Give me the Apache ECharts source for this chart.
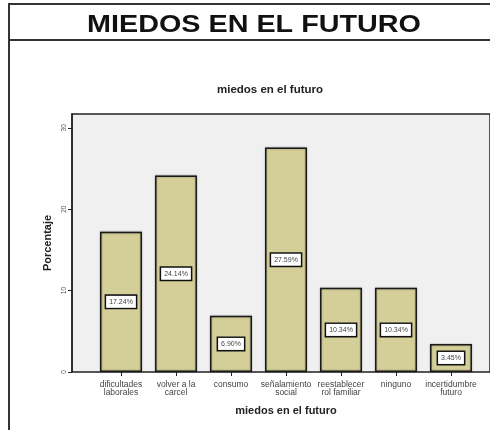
<!DOCTYPE html>
<html><head><meta charset="utf-8">
<script src="https://cdn.jsdelivr.net/npm/echarts@6/dist/echarts.min.js"></script>
<style>html,body{margin:0;padding:0;background:#fff}#c{width:490px;height:430px}</style>
</head><body><div id="c"></div>
<script>
const categories = ["dificultades\nlaborales","volver a la\ncarcel","consumo","señalamiento\nsocial","reestablecer\nrol familiar","ninguno","incertidumbre\nfuturo"];
const percentages = [17.24, 24.14, 6.90, 27.59, 10.34, 10.34, 3.45];
const yTicks = [0, 10, 20, 30];

const chart = echarts.init(document.getElementById('c'), null, {renderer:'canvas'});
const TOP = 114, BOTTOM = 430 - 372;
const yMax = 31.7;
chart.setOption({
  animation:false,
  backgroundColor:'#fff',
  title:[
    {text:'miedos en el futuro', left:265, top:79, textAlign:'center',
     textStyle:{fontFamily:'Liberation Sans', fontWeight:'bold', fontSize:11.5, color:'#222'}}
  ],
  graphic:[
    {type:'rect', shape:{x:9, y:4, width:500, height:440}, style:{fill:'none', stroke:'#333', lineWidth:2}, silent:true, z:0},
    {type:'line', shape:{x1:9, y1:40, x2:500, y2:40}, style:{stroke:'#333', lineWidth:2}, silent:true},
    {type:'text', x:254, y:26, scaleX:1.25, scaleY:1, originX:0, originY:0,
     style:{text:'MIEDOS EN EL FUTURO', x:0, y:0, align:'center', verticalAlign:'middle',
       font:'bold 23px "Liberation Sans"', fill:'#111'}, silent:true}
  ],
  grid:[
    {left:72, right:-10, top:TOP, bottom:BOTTOM, show:true, backgroundColor:'#f0f0f0', borderColor:'#222', borderWidth:1.5},
    {left:93.5, right:11.5, top:TOP, bottom:BOTTOM}
  ],
  xAxis:[
    {gridIndex:0, type:'value', min:0, max:1, show:false},
    {gridIndex:1, type:'category', data:categories,
     name:'miedos en el futuro', nameLocation:'middle', nameGap:33,
     nameTextStyle:{fontFamily:'Liberation Sans', fontWeight:'bold', fontSize:11, color:'#222'},
     axisLine:{show:false},
     axisTick:{show:true, alignWithLabel:true, length:4, lineStyle:{color:'#222', width:1}},
     axisLabel:{fontFamily:'Liberation Sans', fontSize:8.5, color:'#444', lineHeight:8.5, margin:8, interval:0}}
  ],
  yAxis:[
    {gridIndex:0, type:'value', min:0, max:yMax, interval:10,
     name:'Porcentaje', nameLocation:'middle', nameGap:19, nameRotate:90,
     nameTextStyle:{fontFamily:'Liberation Sans', fontWeight:'bold', fontSize:11, color:'#222'},
     axisLine:{show:true, lineStyle:{color:'#222', width:1.5}},
     axisTick:{show:true, length:4, lineStyle:{color:'#222'}},
     axisLabel:{rotate:90, fontFamily:'Liberation Sans', fontSize:6.5, color:'#555', margin:4,
       showMaxLabel:false,
       formatter:v=> yTicks.includes(v) ? String(v) : ''},
     splitLine:{show:false}},
    {gridIndex:1, type:'value', min:0, max:yMax, show:false, splitLine:{show:false}}
  ],
  series:[{
    type:'bar', xAxisIndex:1, yAxisIndex:1, data:percentages, barWidth:42,
    itemStyle:{color:'#d4cf98', borderColor:'#1a1a1a', borderWidth:1.5,
      shadowColor:'rgba(0,0,0,0.35)', shadowBlur:2},
    label:{show:true, position:'inside', formatter:p=>p.value.toFixed(2)+'%',
      fontFamily:'Liberation Sans', fontSize:7, color:'#444',
      backgroundColor:'#fff', borderColor:'#111', borderWidth:1.5, padding:[3,3,2,3]}
  }]
});
</script></body></html>
